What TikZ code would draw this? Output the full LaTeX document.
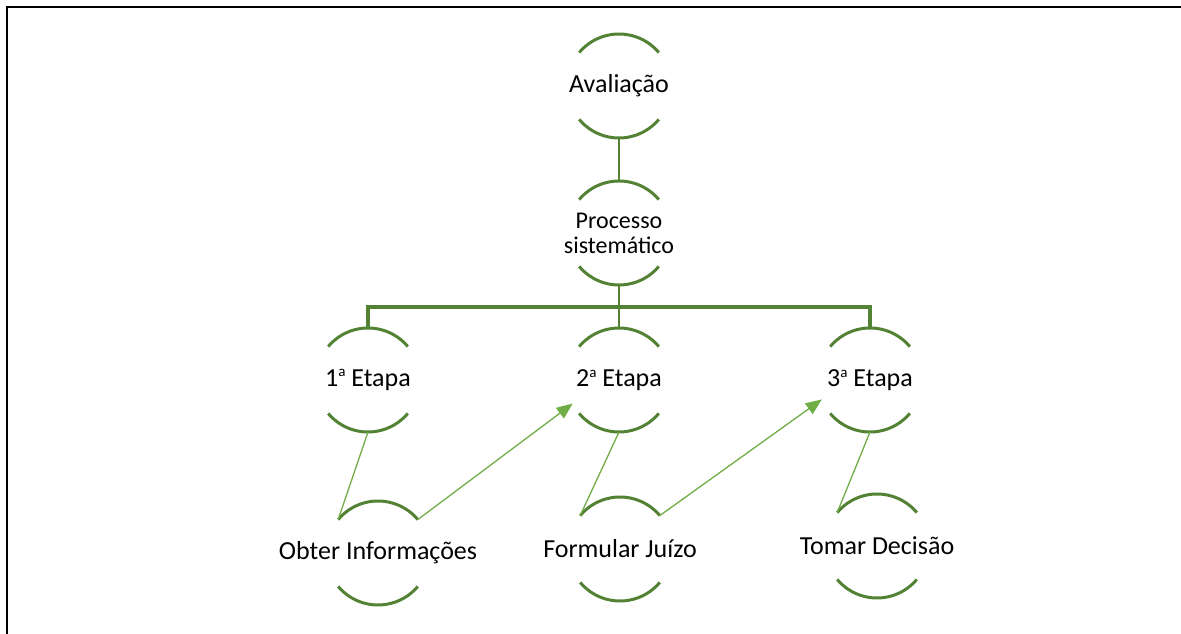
\documentclass[tikz,border=0pt]{standalone}
\usepackage{fontspec}
\setmainfont{Carlito}
\usetikzlibrary{arrows.meta}
\definecolor{rimgreen}{HTML}{548235}
\definecolor{softgreen}{HTML}{70AD47}

\newcommand{\ordsup}{\raisebox{0.75ex}{\fontsize{15}{15}\selectfont a}}

\begin{document}
\begin{tikzpicture}[x=1pt,y=1pt,
  ring/.style={circle, minimum size=104pt, inner sep=0pt, outer sep=0pt},
  caption/.style={inner sep=0pt, align=center, font=\fontsize{26}{30}\selectfont},
  rim/.style={draw=rimgreen, line width=3pt},
  link/.style={draw=rimgreen, line width=2.8pt},
  thinlink/.style={draw=softgreen, line width=1.3pt},
  flow/.style={draw=softgreen, line width=1.3pt,
    -{Triangle[length=16pt,width=13pt,fill=softgreen]}},
  frame/.style={draw=black, line width=2.8pt}]

\useasboundingbox (0,0) rectangle (1181,634);

% outer frame (left and top edges)
\draw[frame] (7,0) -- (7,627) -- (1181,627);

% rings
\node[ring] (aval) at (619,548) {};
\node[ring] (proc) at (619,401) {};
\node[ring] (e1) at (368,254) {};
\node[ring] (e2) at (619,254) {};
\node[ring] (e3) at (870,254) {};
\node[ring] (obter) at (378,81) {};
\node[ring] (formular) at (620,85) {};
\node[ring] (tomar) at (877,88) {};

% upper and lower arcs of every ring
\foreach \r in {aval,proc,e1,e2,e3,obter,formular,tomar}{
  \draw[rim] (\r.40) arc[start angle=40, end angle=140, radius=52pt];
  \draw[rim] (\r.220) arc[start angle=220, end angle=320, radius=52pt];
}

% captions
\node[caption] (aval-t) at (aval) {Avaliação};
\node[caption, font=\fontsize{24}{25}\selectfont] (proc-t) at (proc) {Processo\\sistemático};
\node[caption] (e1-t) at (e1) {1\ordsup{} Etapa};
\node[caption] (e2-t) at (e2) {2\ordsup{} Etapa};
\node[caption] (e3-t) at (e3) {3\ordsup{} Etapa};
\node[caption] (obter-t) at (obter) {Obter Informações};
\node[caption] (formular-t) at (formular) {Formular Juízo};
\node[caption] (tomar-t) at (tomar) {Tomar Decisão};

% hierarchy connectors
\coordinate (bar) at (619,327);
\draw[link] (aval.south) -- (proc.north);
\draw[link] (proc.south) -- (e2.north);
\draw[link, line width=3.2pt] (e1.north) -- (e1.north |- bar) -- (e3.north |- bar) -- (e3.north);

% each stage to its action
\draw[thinlink] (e1.south) -- (obter.140);
\draw[thinlink] (e2.south) -- (formular.140);
\draw[thinlink] (e3.south) -- (tomar.140);

% action leads to the next stage
\draw[flow] (obter.40) -- (e2.207);
\draw[flow] (formular.40) -- (e3.202);

\end{tikzpicture}
\end{document}
